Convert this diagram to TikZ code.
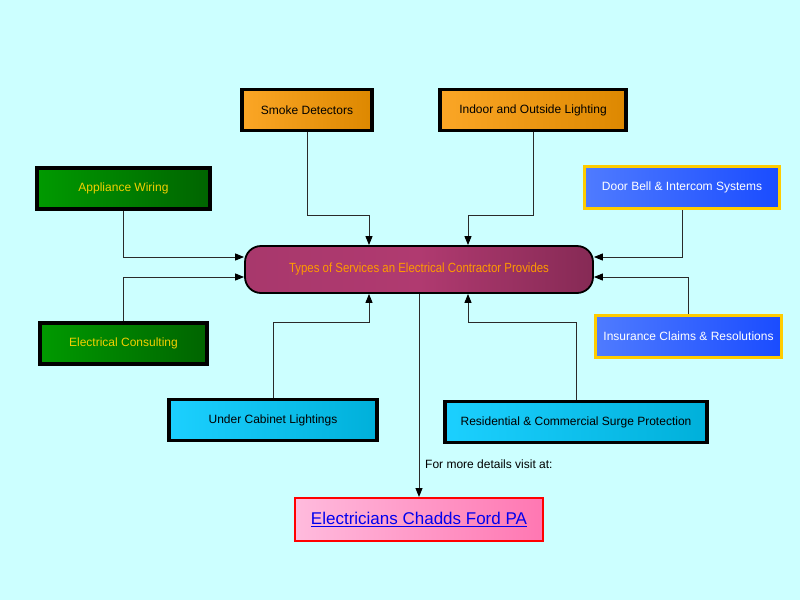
\documentclass[tikz,border=0pt]{standalone}
\usepackage{fontspec}
\setmainfont{Liberation Sans}
\newfontfamily\narrowfont[FakeStretch=0.86]{Liberation Sans}
\usetikzlibrary{calc,arrows.meta}
\definecolor{bg}{HTML}{CCFFFF}
\definecolor{orL}{HTML}{FBA626}
\definecolor{orR}{HTML}{DD8800}
\definecolor{grL}{HTML}{009A00}
\definecolor{grR}{HTML}{006400}
\definecolor{gold}{HTML}{FFCC00}
\definecolor{txtgold}{HTML}{F2D000}
\definecolor{blL}{HTML}{4F7BFF}
\definecolor{blR}{HTML}{1A4CFF}
\definecolor{cyL}{HTML}{1CD0FF}
\definecolor{cyR}{HTML}{00B0DA}
\definecolor{mgL}{HTML}{A8386C}
\definecolor{mgM}{HTML}{B03A70}
\definecolor{mgR}{HTML}{862A55}
\definecolor{ctxt}{HTML}{FF9A00}
\definecolor{pkL}{HTML}{FFBBDD}
\definecolor{pkR}{HTML}{FF77B2}
\definecolor{lnk}{HTML}{0000EE}
\definecolor{edge}{HTML}{2A2A2A}
\tikzset{
  box/.style={draw=black, line width=3.5pt, minimum height=41pt, inner sep=2pt,
    font=\fontsize{12}{14}\selectfont},
  orbox/.style={box, left color=orL, right color=orR, text=black},
  grbox/.style={box, left color=grL, right color=grR, text=txtgold},
  blbox/.style={box, draw=gold, line width=3pt, left color=blL, right color=blR, text=white},
  cybox/.style={box, left color=cyL, right color=cyR, text=black},
  arr/.style={draw=edge, line width=1pt, -{Triangle[length=9pt,width=7pt,color=black]}},
}
\begin{document}
\begin{tikzpicture}[x=1pt,y=-1pt]
\fill[bg] (0,0) rectangle (800,600);
\useasboundingbox (0,0) rectangle (800,600);

\node[orbox, minimum width=130pt] (smoke) at (307,110) {Smoke Detectors};
\node[orbox, minimum width=186pt] (indoor) at (533,110) {Indoor and Outside Lighting};
\node[grbox, minimum width=173pt] (app) at (123.5,188.5) {Appliance Wiring};
\node[blbox, minimum width=195pt, minimum height=42pt] (door) at (682,187.5) {Door Bell \& Intercom Systems};
\node[grbox, minimum width=167pt] (cons) at (123.5,343.5) {Electrical Consulting};
\node[blbox, minimum width=186pt, minimum height=42pt] (ins) at (688.5,336.5) {Insurance Claims \& Resolutions};
\node[cybox, minimum width=208pt] (under) at (273,420) {Under Cabinet Lightings};
\node[cybox, minimum width=262pt] (res) at (576,422) {Residential \& Commercial Surge Protection};

\node[draw=black, line width=1.8pt, rounded corners=16pt, minimum width=348pt, minimum height=47pt,
  left color=mgL, right color=mgR, middle color=mgM, text=ctxt,
  font=\narrowfont\fontsize{13.3}{15}\selectfont] (cen) at (419,269.5)
  {Types of Services an Electrical Contractor Provides};

\node[draw=red, line width=2pt, minimum width=248pt, minimum height=43pt,
  left color=pkL, right color=pkR, text=lnk, font=\fontsize{17}{19}\selectfont] (elec) at (419,519.5)
  {\underline{Electricians Chadds Ford PA}};

\coordinate (cT1) at ($(cen.north)+(-50,0)$);
\coordinate (cT2) at ($(cen.north)+(49,0)$);
\coordinate (cB1) at ($(cen.south)+(-50,0)$);
\coordinate (cB2) at ($(cen.south)+(49,0)$);
\coordinate (cL1) at ($(cen.west)+(0,-12.5)$);
\coordinate (cL2) at ($(cen.west)+(0,7.5)$);
\coordinate (cR1) at ($(cen.east)+(0,-12.5)$);
\coordinate (cR2) at ($(cen.east)+(0,7.5)$);

\draw[arr] (smoke.south) |- ($(cT1)+(0,-30)$) -- (cT1);
\draw[arr] (indoor.south) |- ($(cT2)+(0,-30)$) -- (cT2);
\draw[arr] (app.south) |- (cL1);
\draw[arr] (door.south) |- (cR1);
\draw[arr] (cons.north) |- (cL2);
\draw[arr] (ins.north) |- (cR2);
\draw[arr] (under.north) |- ($(cB1)+(0,29)$) -- (cB1);
\draw[arr] (res.north) |- ($(cB2)+(0,29)$) -- (cB2);
\draw[arr] (cen.south) -- (elec.north);
\node[anchor=west, font=\fontsize{12}{14}\selectfont, inner sep=0pt] (lbl) at (425,464) {For more details visit at:};
\end{tikzpicture}
\end{document}
